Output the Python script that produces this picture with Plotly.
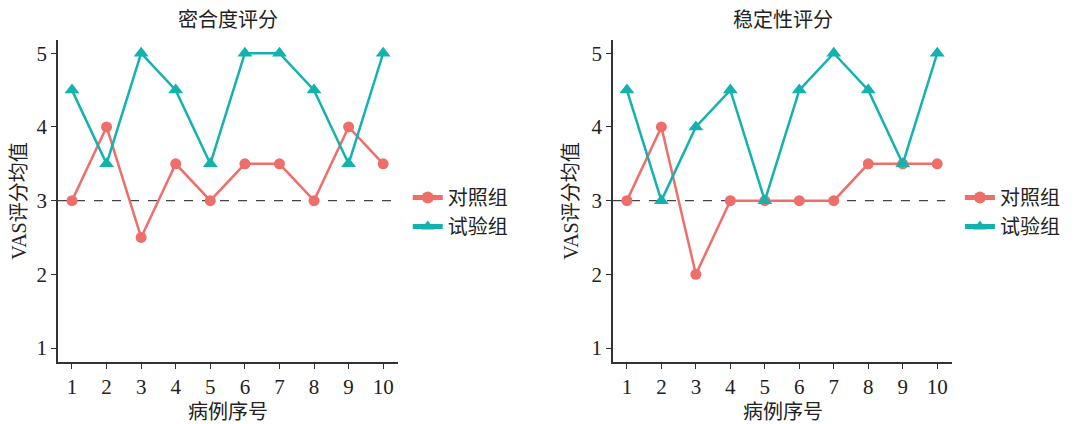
import plotly.graph_objects as go

cases = [1, 2, 3, 4, 5, 6, 7, 8, 9, 10]
titles = ["密合度评分", "稳定性评分"]
x_title = "病例序号"
y_title = "VAS评分均值"
fit_control = [3, 4, 2.5, 3.5, 3, 3.5, 3.5, 3, 4, 3.5]
fit_trial = [4.5, 3.5, 5, 4.5, 3.5, 5, 5, 4.5, 3.5, 5]
stab_control = [3, 4, 2, 3, 3, 3, 3, 3.5, 3.5, 3.5]
stab_trial = [4.5, 3, 4, 4.5, 3, 4.5, 5, 4.5, 3.5, 5]
ref_value = 3
y_ticks = [1, 2, 3, 4, 5]

RED = "#EE6E6A"
TEAL = "#13B2AE"
FONT = "Liberation Serif, Noto Sans CJK SC"

W, H = 1066, 416  # page body has an 8px margin

fig = go.Figure()
panels = [(fit_control, fit_trial, "x", "y", "legend"),
          (stab_control, stab_trial, "x2", "y2", "legend2")]
for ctrl, trial, xa, ya, lg in panels:
    fig.add_trace(go.Scatter(x=cases, y=ctrl, name="对照组", mode="lines+markers",
                             line=dict(color=RED, width=2.5),
                             marker=dict(symbol="circle", size=11, color=RED),
                             xaxis=xa, yaxis=ya, legend=lg))
    fig.add_trace(go.Scatter(x=cases, y=trial, name="试验组", mode="lines+markers",
                             line=dict(color=TEAL, width=2.5),
                             marker=dict(symbol="triangle-up", size=13, color=TEAL),
                             xaxis=xa, yaxis=ya, legend=lg))
    fig.add_shape(type="line", xref=f"{xa} domain", yref=ya, x0=0, x1=0.98,
                  y0=ref_value, y1=ref_value,
                  line=dict(color="#444444", width=1.3, dash="dash"), layer="below")

axis_common = dict(showline=True, linecolor="#333333", linewidth=1.5, ticks="outside",
                   ticklen=5, tickcolor="#333333", showgrid=False, zeroline=False,
                   automargin=False,
                   tickfont=dict(family=FONT, size=21, color="#222222"))
xdoms = [[0.0469, 0.3659], [0.5675, 0.8856]]
ydom = [0.1490, 0.9231]
for i in range(2):
    sfx = "" if i == 0 else "2"
    fig.layout[f"xaxis{sfx}"] = dict(axis_common, domain=xdoms[i], range=[0.595, 10.43],
                                     tickvals=cases, anchor=f"y{sfx}")
    fig.layout[f"yaxis{sfx}"] = dict(axis_common, domain=ydom, range=[0.81, 5.18],
                                     tickvals=y_ticks, anchor=f"x{sfx}",
                                     title=dict(text=y_title, standoff=8,
                                                font=dict(family=FONT, size=20, color="#222222")))

annotations = []
for i, t in enumerate(titles):
    xc = (xdoms[i][0] + xdoms[i][1]) / 2
    annotations.append(dict(text=t, xref="paper", yref="paper",
                            x=xc, y=0.9712,
                            xanchor="center", yanchor="middle", showarrow=False,
                            font=dict(family=FONT, size=20, color="#222222")))
    annotations.append(dict(text=x_title, xref="paper", yref="paper",
                            x=xc, y=0.0288,
                            xanchor="center", yanchor="middle", showarrow=False,
                            font=dict(family=FONT, size=20, color="#222222")))

legend_common = dict(font=dict(family=FONT, size=20, color="#222222"), bgcolor="rgba(0,0,0,0)",
                     yanchor="middle", xanchor="left", itemsizing="constant",
                     tracegroupgap=0)
fig.update_layout(
    width=W, height=H, margin=dict(l=0, r=0, t=0, b=0),
    paper_bgcolor="white", plot_bgcolor="white",
    showlegend=True,
    legend=dict(legend_common, x=0.375, y=0.5096),
    legend2=dict(legend_common, x=0.893, y=0.5096),
    annotations=annotations,
)

fig.write_html("out.html")
